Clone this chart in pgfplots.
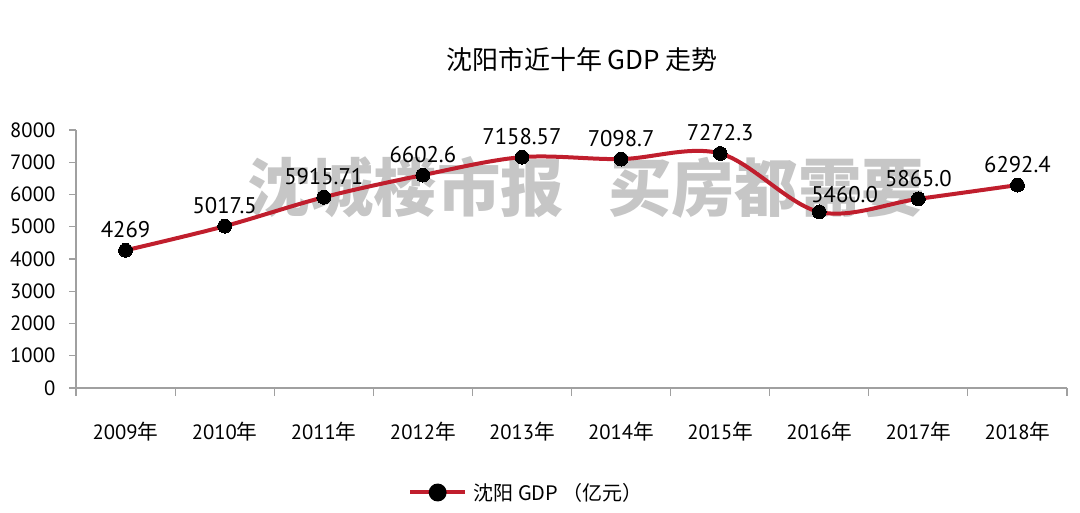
\documentclass[border=0pt]{standalone}
\usepackage{pgfplots}
\pgfplotsset{compat=1.18}
\usepackage{pgfplotstable}
\usepackage{fontspec}
\setmainfont{PT Sans}
\newfontfamily\cjk{Noto Sans CJK SC}
\definecolor{gdpred}{RGB}{192,30,45}
\definecolor{axgray}{RGB}{160,160,160}

\pgfplotstableread{
x y lbl
0 4269    4269
1 5017.5  5017.5
2 5915.71 5915.71
3 6602.6  6602.6
4 7158.57 7158.57
5 7098.7  7098.7
6 7272.3  7272.3
7 5460.0  5460.0
8 5865.0  5865.0
9 6292.4  6292.4
}\gdp

\pgfplotstableread{
x y lbl
0 4269    4269
1 5017.5  5017.5
2 5915.71 5915.71
3 6602.6  6602.6
4 7158.57 7158.57
5 7098.7  7098.7
6 7272.3  7272.3
8 5865.0  5865.0
9 6292.4  6292.4
}\gdplbl

\pgfplotstableread{
x y lbl
7 5460.0  5460.0
}\gdplblb

\begin{document}
\begin{tikzpicture}
\useasboundingbox (0,0) rectangle (810pt,384pt);
\node[font=\cjk\bfseries\fontsize{47.5}{50}\selectfont, text=black!50, opacity=0.45] at (439.5pt,243.75pt) {沈城楼市报\hspace{0.7em}买房都需要};
\begin{axis}[
  at={(57pt,93pt)}, anchor=south west,
  scale only axis, width=743.25pt, height=193.5pt,
  xmin=-0.5, xmax=9.5, ymin=0, ymax=8000,
  axis x line*=bottom, axis y line*=left,
  axis line style={draw=axgray, line width=0.8pt},
  xtick={0,...,9},
  xticklabels={{2009\cjk 年},{2010\cjk 年},{2011\cjk 年},{2012\cjk 年},{2013\cjk 年},{2014\cjk 年},{2015\cjk 年},{2016\cjk 年},{2017\cjk 年},{2018\cjk 年}},
  minor xtick={-0.5,0.5,...,9.5},
  ytick={0,1000,...,8000},
  tick align=outside,
  major x tick style={draw=none},
  minor tick length=6pt, major tick length=5pt,
  ytick style={draw=axgray, line width=0.8pt},
  minor x tick style={draw=axgray, line width=0.8pt},
  /pgf/number format/assume math mode=true,
  scaled y ticks=false,
  yticklabel style={/pgf/number format/fixed, /pgf/number format/1000 sep={}, font=\fontsize{15.5}{18}\selectfont, xshift=-7pt},
  xticklabel style={font=\fontsize{15.5}{18}\selectfont, yshift=-17pt},
  clip=false,
  legend style={at={(0.455,-0.405)}, anchor=center, draw=none, fill=none,
    font=\cjk\fontsize{15}{18}\selectfont, inner sep=0pt},
  legend image code/.code={
    \draw[gdpred, line width=3pt] (0pt,0pt) -- (41pt,0pt);
    \fill[black] (20.5pt,0pt) circle (5.2pt);
  },
  legend cell align=left,
]
\addplot[gdpred, line width=3pt, smooth, tension=0.55,
  mark=*, mark size=5.2pt, mark options={fill=black, draw=black, line width=0pt},
] table[x=x, y=y] {\gdp};
\addlegendentry{\hspace{3pt}沈阳 GDP （亿元）}
\addplot[draw=none, forget plot,
  point meta=explicit symbolic,
  nodes near coords,
  nodes near coords style={anchor=south, yshift=7pt, text=black,
    font=\fontsize{17}{20}\selectfont, inner sep=2pt},
] table[x=x, y=y, meta=lbl] {\gdplbl};
\addplot[draw=none, forget plot,
  point meta=explicit symbolic,
  nodes near coords,
  nodes near coords style={anchor=south, xshift=19pt, yshift=5pt, text=black,
    font=\fontsize{17}{20}\selectfont, inner sep=2pt},
] table[x=x, y=y, meta=lbl] {\gdplblb};
\end{axis}
\node[font=\cjk\fontsize{19.5}{22}\selectfont] at (436.5pt,339pt) {沈阳市近十年 GDP 走势};
\end{tikzpicture}
\end{document}
